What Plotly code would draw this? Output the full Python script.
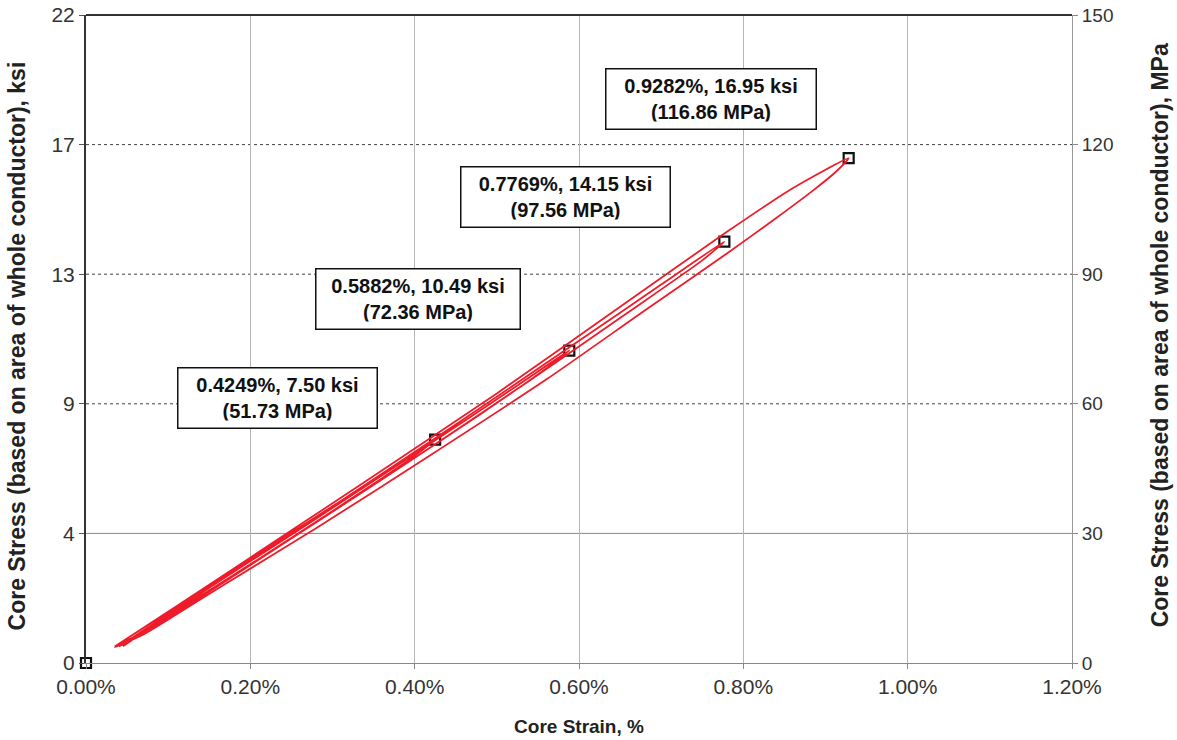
import plotly.graph_objects as go

# Conversion between the two stress scales
KSI_TO_MPA = 6.894757

# Peak points of the four load cycles
peak_strain = [0.4249, 0.5882, 0.7769, 0.9282]
peak_ksi = [7.50, 10.49, 14.15, 16.95]
peak_mpa = [51.73, 72.36, 97.56, 116.86]

# Cycle 1: loading then unloading (strain %, stress MPa)
cycle1_strain = [0.035, 0.12, 0.22, 0.32, 0.4249, 0.40, 0.34, 0.26, 0.18, 0.10, 0.045]
cycle1_stress = [3.7, 14.2, 26.6, 38.7, 51.73, 48.0, 40.2, 30.2, 20.4, 10.8, 3.9]

# Cycle 2
cycle2_strain = [0.045, 0.15, 0.28, 0.42, 0.52, 0.5882, 0.56, 0.48, 0.38, 0.28, 0.18, 0.09, 0.04]
cycle2_stress = [3.9, 17.4, 33.4, 50.9, 63.6, 72.36, 68.2, 57.6, 45.0, 32.6, 20.2, 9.2, 3.8]

# Cycle 3
cycle3_strain = [0.04, 0.16, 0.30, 0.45, 0.60, 0.70, 0.7769, 0.75, 0.66, 0.54, 0.42, 0.30, 0.18, 0.08, 0.035]
cycle3_stress = [3.8, 18.8, 36.2, 55.2, 74.6, 87.6, 97.56, 93.2, 81.2, 65.4, 50.0, 35.0, 20.2, 8.2, 3.8]

# Cycle 4
cycle4_strain = [0.035, 0.18, 0.34, 0.50, 0.66, 0.78, 0.86, 0.9282,
                 0.912, 0.885, 0.84, 0.78, 0.68, 0.56, 0.42, 0.28, 0.16, 0.07, 0.035]
cycle4_stress = [3.8, 21.9, 42.0, 62.4, 83.8, 99.8, 109.9, 116.86,
                 113.6, 109.4, 103.0, 94.8, 81.6, 65.6, 48.2, 31.2, 17.2, 6.6, 3.7]

# Starting point of the test
origin_strain = [0.0]
origin_ksi = [0.0]

# Axis ticks
x_ticks = [0.0, 0.2, 0.4, 0.6, 0.8, 1.0, 1.2]
mpa_ticks = [0, 30, 60, 90, 120, 150]
ksi_tick_text = ["0", "4", "9", "13", "17", "22"]

# Axis titles
x_title = "Core Strain, %"
y_left_title = "Core Stress (based on area of whole conductor), ksi"
y_right_title = "Core Stress (based on area of whole conductor), MPa"

# Text-box centres (strain %, MPa) and text widths
label_x = [0.2325, 0.4045, 0.584, 0.7607]
label_y = [61.3, 84.2, 107.8, 130.6]
label_w = [184, 189, 194, 195]

FONT = "Arial, Liberation Sans, sans-serif"

curve_x = cycle1_strain + cycle2_strain + cycle3_strain + cycle4_strain
curve_y = cycle1_stress + cycle2_stress + cycle3_stress + cycle4_stress

fig = go.Figure()

fig.add_trace(go.Scatter(
    x=curve_x, y=curve_y, yaxis="y2", mode="lines",
    line=dict(color="#ee1c2a", width=1.8, shape="spline", smoothing=0.6),
    hoverinfo="skip", showlegend=False,
))

fig.add_trace(go.Scatter(
    x=origin_strain + peak_strain, y=origin_ksi + peak_ksi, mode="markers",
    marker=dict(symbol="square-open", size=10, color="#111111",
                line=dict(width=2.2, color="#111111")),
    cliponaxis=False, showlegend=False,
))

# Horizontal grid lines: solid at the lowest level, dotted above
for i, m in enumerate(mpa_ticks[1:-1]):
    fig.add_shape(
        type="line", xref="paper", x0=0, x1=1, yref="y2", y0=m, y1=m,
        line=dict(color="#8a8a8a" if i == 0 else "#444444", width=1,
                  dash="solid" if i == 0 else "dot"),
        layer="below",
    )

# Dark top border
fig.add_shape(type="line", xref="paper", yref="paper", x0=0, x1=1, y0=1, y1=1,
              line=dict(color="#333333", width=2))

for sx, kv, mv, lx, ly, w in zip(peak_strain, peak_ksi, peak_mpa, label_x, label_y, label_w):
    fig.add_annotation(
        x=lx, y=ly, xref="x", yref="y2", showarrow=False,
        text=f"<b>{sx:.4f}%, {kv:.2f} ksi<br>({mv:.2f} MPa)</b>",
        font=dict(family=FONT, size=20, color="#111111"),
        bgcolor="white", bordercolor="#111111", borderwidth=1.5, borderpad=7,
        width=w, height=45, align="center",
    )

# Rotated y-axis titles on both sides
fig.add_annotation(
    x=-0.069, y=0.49, xref="paper", yref="paper", showarrow=False,
    text=f"<b>{y_left_title}</b>", textangle=-90,
    font=dict(family=FONT, size=23, color="#222222"),
    xanchor="center", yanchor="middle",
)
fig.add_annotation(
    x=1.0888, y=0.505, xref="paper", yref="paper", showarrow=False,
    text=f"<b>{y_right_title}</b>", textangle=-90,
    font=dict(family=FONT, size=23, color="#222222"),
    xanchor="center", yanchor="middle",
)

fig.update_layout(
    width=1177, height=740,
    margin=dict(l=86, r=105, t=15, b=77),
    paper_bgcolor="white", plot_bgcolor="white",
    font=dict(family=FONT, size=18, color="#333333"),
    xaxis=dict(
        range=[0, 1.2], tickvals=x_ticks,
        ticktext=[f"{v:.2f}%" for v in x_ticks],
        tickfont=dict(size=21),
        showgrid=True, gridcolor="#b5b5b5", gridwidth=1,
        showline=True, linecolor="#888888", linewidth=1,
        ticks="outside", ticklen=5, tickcolor="#888888",
        zeroline=False, automargin=False,
        title=dict(text=f"<b>{x_title}</b>", font=dict(size=19, color="#222222"), standoff=22),
    ),
    yaxis=dict(
        range=[0, mpa_ticks[-1] / KSI_TO_MPA],
        tickvals=[m / KSI_TO_MPA for m in mpa_ticks], ticktext=ksi_tick_text,
        tickfont=dict(size=21),
        showgrid=False, zeroline=False,
        showline=True, linecolor="#333333", linewidth=2,
        ticks="outside", ticklen=5, tickcolor="#555555",
        automargin=False,
    ),
    yaxis2=dict(
        range=[0, mpa_ticks[-1]], tickvals=mpa_ticks,
        tickfont=dict(size=19),
        overlaying="y", side="right", anchor="x",
        showgrid=False, zeroline=False,
        showline=True, linecolor="#999999", linewidth=1,
        ticks="outside", ticklen=5, tickcolor="#888888",
        automargin=False,
    ),
)

fig.write_html("out.html")
